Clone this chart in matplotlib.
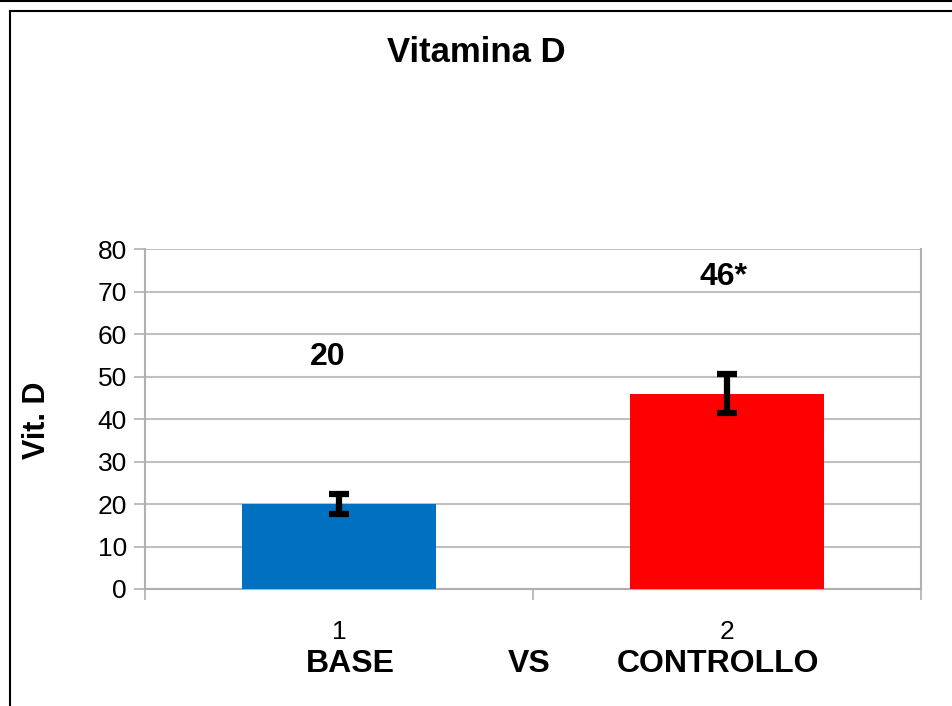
import matplotlib
matplotlib.use("Agg")
import matplotlib.pyplot as plt
from matplotlib.lines import Line2D

plt.rcParams['font.family'] = ['Liberation Sans', 'DejaVu Sans']

categories = ["1", "2"]
group_names = ["BASE", "VS", "CONTROLLO"]
values = [20, 46]
errors = [2.3, 4.7]
value_labels = ["20", "46*"]
label_x = [0.970, 1.990]
label_y = [54.6, 73.4]
colors = ["#0070C0", "#FF0000"]

fig = plt.figure(figsize=(9.52, 7.06), dpi=100)
W, H = 952, 706
ax = fig.add_axes([145 / W, 1 - 589 / H, (921 - 145) / W, (589 - 249) / H])

x = [1, 2]
ax.bar(x, values, width=0.5, color=colors, zorder=3)
eb = ax.errorbar(x, values, yerr=errors, fmt='none', ecolor='black', elinewidth=4.5,
                 capsize=7.5, capthick=4.5, zorder=4)
for c in eb[1]:
    c.set_solid_capstyle('round')
for lx, lab, ly in zip(label_x, value_labels, label_y):
    ax.text(lx, ly, lab, ha='center', va='center', fontsize=23, fontweight='bold')

ax.set_xlim(0.5, 2.5)
ax.set_ylim(0, 80)
ax.set_yticks(range(0, 81, 10))
ax.yaxis.grid(True, color='#c0c0c0', linewidth=1.5, zorder=0)
ax.set_axisbelow(True)
for s in ax.spines.values():
    s.set_color('#b0b0b0')
    s.set_linewidth(1.5)
ax.spines['top'].set_visible(False)
ax.tick_params(axis='y', colors='#b0b0b0', length=8, width=1.2, labelcolor='black',
               labelsize=19, pad=5)
ax.set_xticks([0.5, 1.5, 2.5])
ax.set_xticklabels([])
ax.tick_params(axis='x', colors='#b0b0b0', length=8, width=1.2)
ax.set_xticks(x, minor=True)
ax.set_xticklabels(categories, minor=True)
ax.tick_params(axis='x', which='minor', length=0, labelsize=19, labelcolor='black', pad=22)

fig.text(37 / W, 1 - 420 / H, "Vit. D", ha='center', va='center', rotation=90,
         fontsize=22, fontweight='bold')

fig.text(476 / W, 1 - 52 / H, "Vitamina D", ha='center', va='center',
         fontsize=25, fontweight='bold')
for name, px in zip(group_names, [350, 529, 718]):
    fig.text(px / W, 1 - 664 / H, name, ha='center', va='center',
             fontsize=23, fontweight='bold')

# frame lines
fig.add_artist(Line2D([0, 1], [1 - 0.5 / H, 1 - 0.5 / H], color='black', lw=1.5,
                      transform=fig.transFigure))
fig.add_artist(Line2D([10 / W, 1], [1 - 11 / H, 1 - 11 / H], color='black', lw=1.5,
                      transform=fig.transFigure))
fig.add_artist(Line2D([10 / W, 10 / W], [0, 1 - 11 / H], color='black', lw=1.5,
                      transform=fig.transFigure))

fig.savefig("out.png", dpi=100)
